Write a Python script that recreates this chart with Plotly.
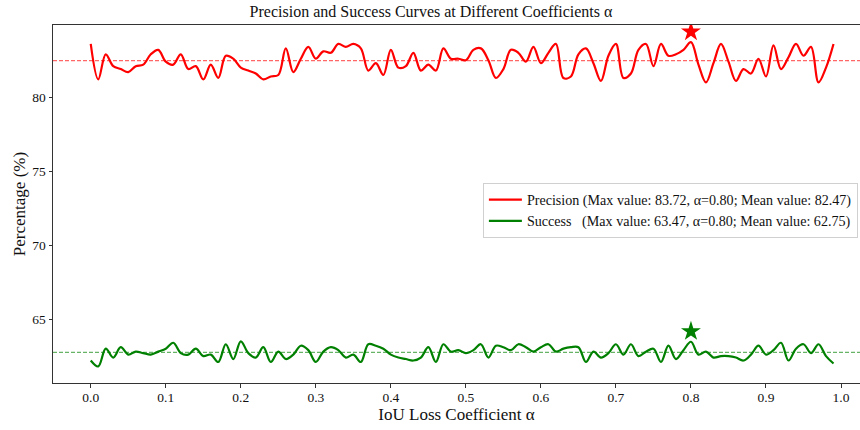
import numpy as np
import plotly.graph_objects as go

alpha = np.round(np.arange(0, 1.0, 0.01), 2)

precision = [
    83.6, 81.2, 82.9, 82.1, 81.9, 81.7, 82.1, 82.2, 82.9, 83.2,
    82.4, 82.2, 82.9, 81.9, 82.1, 81.2, 82.2, 81.3, 82.8, 82.6,
    82.0, 81.8, 81.6, 81.2, 81.4, 81.5, 83.3, 81.7, 82.6, 83.4,
    82.6, 83.1, 83.0, 83.6, 83.4, 83.6, 83.3, 81.8, 82.3, 81.5,
    83.2, 82.0, 82.1, 83.0, 81.8, 82.2, 81.8, 83.3, 82.6, 82.6,
    82.5, 83.2, 83.3, 82.5, 81.3, 81.9, 83.2, 83.0, 82.4, 83.4,
    82.3, 83.0, 83.6, 81.3, 81.4, 82.9, 83.3, 82.3, 81.1, 82.8,
    83.6, 81.3, 81.6, 83.2, 83.6, 82.1, 83.6, 82.8, 82.9, 83.2,
    83.72, 82.2, 81.0, 82.3, 83.6, 82.4, 81.1, 81.9, 81.6, 82.6,
    81.4, 83.5, 81.9, 82.7, 83.6, 82.8, 83.4, 81.0, 82.0, 83.6,
]

success = [
    62.2, 61.8, 63.0, 62.4, 63.1, 62.6, 62.8, 62.7, 62.6, 62.8,
    63.0, 63.4, 62.7, 62.6, 63.0, 62.5, 62.6, 62.1, 63.3, 62.3,
    63.5, 62.7, 62.4, 63.1, 62.1, 62.8, 62.3, 62.6, 63.2, 62.9,
    62.1, 62.8, 63.1, 62.9, 62.4, 62.6, 62.1, 63.3, 63.2, 63.0,
    62.6, 62.4, 62.3, 62.2, 62.4, 63.1, 62.1, 63.3, 62.8, 62.9,
    62.7, 62.9, 63.3, 62.4, 63.2, 63.1, 62.9, 63.3, 63.1, 62.8,
    63.1, 63.3, 62.8, 63.0, 63.1, 63.1, 62.1, 62.8, 62.4, 62.7,
    63.3, 62.6, 63.3, 62.5, 62.8, 63.0, 62.1, 63.2, 62.3, 62.9,
    63.47, 62.6, 62.8, 62.4, 62.5, 62.5, 62.4, 62.2, 62.6, 63.2,
    62.6, 62.9, 63.4, 62.2, 63.0, 63.3, 62.7, 63.3, 62.5, 62.0,
]

prec_max, prec_mean = 83.72, 82.47
succ_max, succ_mean = 63.47, 62.75
best_alpha = 0.80

x_ticks = [0.0, 0.1, 0.2, 0.3, 0.4, 0.5, 0.6, 0.7, 0.8, 0.9, 1.0]
x_tick_labels = ["0.0", "0.1", "0.2", "0.3", "0.4", "0.5", "0.6", "0.7", "0.8", "0.9", "1.0"]
y_ticks = [65, 70, 75, 80]

FONT = "Liberation Serif, Times New Roman, serif"
NB = "\u00a0"

fig = go.Figure()
fig.add_trace(go.Scatter(
    x=alpha, y=precision, mode="lines", line=dict(color="#ff0000", width=2.2, shape="spline"),
    name=f"Precision (Max value: {prec_max:.2f}, α={best_alpha:.2f}; Mean value: {prec_mean:.2f})",
))
fig.add_trace(go.Scatter(
    x=alpha, y=success, mode="lines", line=dict(color="#008000", width=2.2, shape="spline"),
    name=f"Success{NB*3}(Max value: {succ_max:.2f}, α={best_alpha:.2f}; Mean value: {succ_mean:.2f})",
))
fig.add_trace(go.Scatter(
    x=[best_alpha], y=[prec_max + 0.7], mode="markers", showlegend=False,
    marker=dict(symbol="star", size=15, color="#ff0000", line=dict(width=0)),
))
fig.add_trace(go.Scatter(
    x=[best_alpha], y=[succ_max + 0.7], mode="markers", showlegend=False,
    marker=dict(symbol="star", size=15, color="#008000", line=dict(width=0)),
))
fig.add_hline(y=prec_mean, line=dict(color="rgba(255,0,0,0.6)", width=1.2, dash="4px,2px"))
fig.add_hline(y=succ_mean, line=dict(color="rgba(0,128,0,0.6)", width=1.2, dash="4px,2px"))

fig.update_layout(
    width=860, height=430,
    margin=dict(l=53, r=0, t=25, b=47),
    paper_bgcolor="white", plot_bgcolor="white",
    font=dict(family=FONT, size=13.5, color="#111"),
    title=dict(text="Precision and Success Curves at Different Coefficients α",
               x=431 / 860, xref="container", y=1 - 11 / 430, yref="container",
               xanchor="center", yanchor="middle",
               font=dict(family=FONT, size=16, color="#111")),
    legend=dict(x=0.5327, y=0.559, xanchor="left", yanchor="top",
                bgcolor="white", bordercolor="#d0d0d0", borderwidth=1,
                font=dict(family=FONT, size=14.1, color="#111"),
                tracegroupgap=0, itemwidth=33),
)
fig.update_xaxes(
    range=[-0.0503, 1.0253], tickvals=x_ticks, ticktext=x_tick_labels,
    automargin=False,
    showgrid=False, zeroline=False, showline=True, linecolor="#333", linewidth=1,
    mirror=True, ticks="outside", ticklen=3.5, tickcolor="#333",
    ticklabelstandoff=-2,
    title=dict(text="IoU Loss Coefficient α", font=dict(family=FONT, size=17, color="#111"), standoff=0),
)
fig.update_yaxes(
    range=[60.68, 84.88], tickvals=y_ticks,
    automargin=False,
    showgrid=False, zeroline=False, showline=True, linecolor="#333", linewidth=1,
    ticks="outside", ticklen=3.5, tickcolor="#333",
    title=dict(text="Percentage (%)", font=dict(family=FONT, size=17, color="#111"), standoff=2),
)

fig.write_html(
    "out.html",
    config={"displayModeBar": False},
    post_script="document.body.style.margin='0';document.body.style.overflow='hidden';",
)
